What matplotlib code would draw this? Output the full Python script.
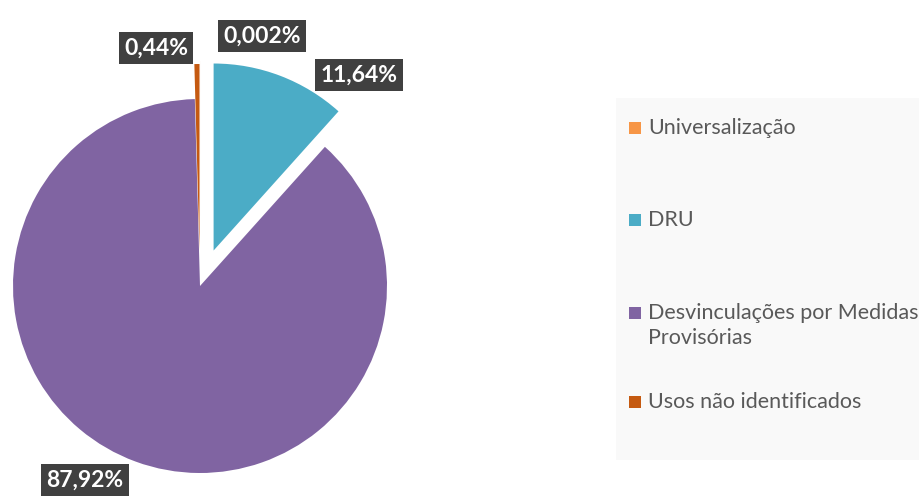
import numpy as np
import matplotlib.pyplot as plt
from matplotlib.patches import Rectangle

categories = ["Universalização", "DRU", "Desvinculações por Medidas\nProvisórias", "Usos não identificados"]
values = [0.002, 11.64, 87.92, 0.44]
colors = ["#F79646", "#4BACC6", "#8064A2", "#C55A11"]

H = 498
# pie geometry in pixels
cx, cy, r = 200, H - 286, 187
explode = [38, 38, 0, 35]

# label positions (pixel, top-origin)
label_pos = [(262, 36), (359, 75), (85, 480), (156, 48)]
legend_y = [128, 220, 313, 402]

fig = plt.figure(figsize=(9.2, 4.98), dpi=100)
ax = fig.add_axes([0, 0, 1, 1])
wedges, _ = ax.pie(values, colors=colors, startangle=90, counterclock=False,
                   center=(cx, cy), radius=r, explode=explode,
                   wedgeprops=dict(linewidth=0))
ax.set_xlim(0, 920)
ax.set_ylim(0, H)
ax.set_aspect('auto')
ax.axis('off')

for v, (x, y) in zip(values, label_pos):
    txt = f"{v:g}".replace('.', ',') + "%"
    ax.text(x, H - y, txt, ha='center', va='center', color='white',
            fontsize=16.5, fontweight='bold', family='Lato',
            bbox=dict(boxstyle='square,pad=0.22', fc='#404040', ec='none'))

# legend panel
ax.add_patch(Rectangle((616, H - 460), 304, 362, fc='#F9F9F9', ec='none', zorder=0))
for cat, col, y in zip(categories, colors, legend_y):
    ax.add_patch(Rectangle((629, H - y - 6), 12, 12, fc=col, ec='none'))
    ty = H - y - 12.5 if '\n' in cat else H - y
    ax.text(648, ty, cat, ha='left', va='center',
            color='#595959', fontsize=15.5, family='Lato', linespacing=1.3)

fig.savefig("out.png", dpi=100)
